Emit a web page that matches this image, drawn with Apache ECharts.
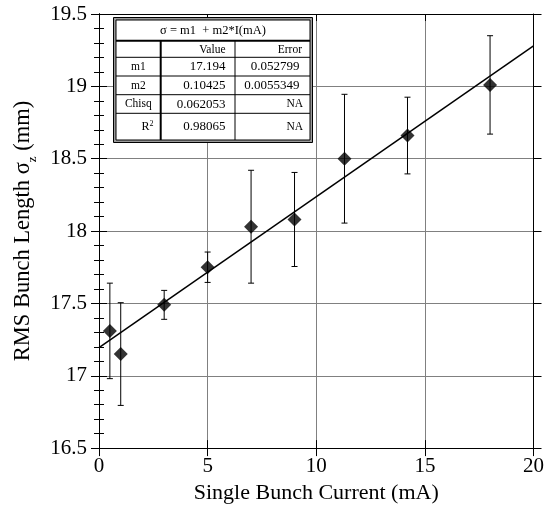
<!DOCTYPE html>
<html>
<head>
<meta charset="utf-8">
<script src="https://cdn.jsdelivr.net/npm/echarts@6/dist/echarts.min.js"></script>
<style>html,body{margin:0;padding:0;background:#fff;}#c{width:547px;height:509px;}</style>
</head>
<body>
<div id="c"></div>
<script>
// ---- data ----
var current = [0.5, 1.0, 3.0, 5.0, 7.0, 9.0, 11.3, 14.2, 18.0];
var sigma   = [17.31, 17.15, 17.49, 17.75, 18.03, 18.08, 18.50, 18.66, 19.01];
var sigmaErr = [0.33, 0.355, 0.10, 0.105, 0.39, 0.325, 0.445, 0.265, 0.34];
var fitX = [0, 20];
var fitY = [17.194, 19.279];
var xTicks = [0, 5, 10, 15, 20];
var yTicks = [16.5, 17, 17.5, 18, 18.5, 19, 19.5];

var tableTitle = 'σ = m1  + m2*I(mA)';
var tableHeader = ['', 'Value', 'Error'];
var tableRowLabels = ['m1', 'm2', 'Chisq', 'R{sup|2}'];
var tableValues = ['17.194', '0.10425', '0.062053', '0.98065'];
var tableErrors = ['0.052799', '0.0055349', 'NA', 'NA'];

var FONT = '"Liberation Serif", "Times New Roman", serif';

var points = current.map(function (x, i) { return [x, sigma[i]]; });
var errData = current.map(function (x, i) { return [x, sigma[i] - sigmaErr[i], sigma[i] + sigmaErr[i]]; });
var fitData = fitX.map(function (x, i) { return [x, fitY[i]]; });

var chart = echarts.init(document.getElementById('c'), null, {renderer: 'canvas'});

function yAxisBase(extra) {
  var a = {
    type: 'value', min: yTicks[0], max: yTicks[yTicks.length - 1], interval: 0.5,
    axisLine: {show: true, lineStyle: {color: '#000', width: 1}},
    axisTick: {show: true, length: 8, lineStyle: {color: '#000'}},
    axisLabel: {show: false},
    splitLine: {show: false},
    minorTick: {show: false}
  };
  for (var k in extra) a[k] = extra[k];
  return a;
}
function xAxisBase(extra) {
  var a = {
    type: 'value', min: xTicks[0], max: xTicks[xTicks.length - 1], interval: 5,
    axisLine: {show: true, onZero: false, lineStyle: {color: '#000', width: 1}},
    axisTick: {show: true, length: 8, lineStyle: {color: '#000'}},
    axisLabel: {show: false},
    splitLine: {show: false}
  };
  for (var k in extra) a[k] = extra[k];
  return a;
}

// table graphics
var tL = 113.5, tR = 312.5, tT = 17.5, tB = 142.5;
var iL = 116, iR = 310, iT = 20, iB = 140;
var rowLines = [40.7, 57.3, 76, 94.7, 113.3];
var rowCenters = [67, 85.7, 104.3, 127];
var col1 = 160.7, col2 = 235;
var g = [];
g.push({type: 'rect', shape: {x: tL, y: tT, width: tR - tL, height: tB - tT}, style: {fill: '#9a9a9a', stroke: '#000', lineWidth: 1}, z: 100});
g.push({type: 'rect', shape: {x: iL, y: iT, width: iR - iL, height: iB - iT}, style: {fill: '#fff', stroke: '#000', lineWidth: 1}, z: 101});
rowLines.forEach(function (y, i) {
  g.push({type: 'line', shape: {x1: iL, y1: y, x2: iR, y2: y}, style: {stroke: '#000', lineWidth: i === 0 ? 2 : 1}, z: 102});
});
g.push({type: 'line', shape: {x1: col1, y1: rowLines[0], x2: col1, y2: iB}, style: {stroke: '#000', lineWidth: 2}, z: 102});
g.push({type: 'line', shape: {x1: col2, y1: rowLines[0], x2: col2, y2: iB}, style: {stroke: '#000', lineWidth: 1}, z: 102});
function txt(x, y, s, align, size) {
  g.push({type: 'text', x: x, y: y, z: 103, style: {text: s, fontSize: size, fontFamily: FONT, fill: '#000', align: align, verticalAlign: 'middle',
    rich: {sup: {fontSize: 8, fontFamily: FONT, padding: [0, 0, 7, 0]}}}});
}
txt((iL + iR) / 2, 30.5, tableTitle, 'center', 12.5);
txt(225.5, 49.5, tableHeader[1], 'right', 11.5);
txt(302, 49.5, tableHeader[2], 'right', 11.5);
tableRowLabels.forEach(function (s, i) {
  if (i === 3) txt(153.5, rowCenters[i], s, 'right', 12);
  else txt((iL + col1) / 2, rowCenters[i], s, 'center', 11.5);
  txt(225.5, rowCenters[i], tableValues[i], 'right', 13);
  txt(i >= 2 ? 303 : 299.5, rowCenters[i], tableErrors[i], 'right', i >= 2 ? 11.5 : 13);
});

var option = {
  backgroundColor: '#fff',
  animation: false,
  textStyle: {fontFamily: FONT},
  grid: {left: 99, right: 9, top: 14, bottom: 60, containLabel: false},
  xAxis: [
    xAxisBase({
      position: 'bottom',
      axisLabel: {show: true, fontSize: 21, fontFamily: FONT, color: '#000', margin: 8},
      axisTick: {show: true, length: 8, inside: false, lineStyle: {color: '#000'}},
      splitLine: {show: true, lineStyle: {color: '#808080', width: 1}},
      name: 'Single Bunch Current (mA)', nameLocation: 'middle', nameGap: 31,
      nameTextStyle: {fontSize: 22, fontFamily: FONT, color: '#000'}
    }),
    xAxisBase({position: 'bottom', axisTick: {show: true, inside: true, length: 8, lineStyle: {color: '#000'}}}),
    xAxisBase({position: 'top', axisTick: {show: true, inside: true, length: 7, lineStyle: {color: '#000'}}})
  ],
  yAxis: [
    yAxisBase({
      position: 'left',
      axisLabel: {show: true, fontSize: 21, fontFamily: FONT, color: '#000', margin: 12},
      axisTick: {show: true, inside: false, length: 8, lineStyle: {color: '#000'}},
      splitLine: {show: true, lineStyle: {color: '#808080', width: 1}},
      name: 'RMS Bunch Length σ{sub|z} (mm)', nameLocation: 'middle', nameGap: 60,
      nameTextStyle: {fontSize: 22.5, fontFamily: FONT, color: '#000', lineHeight: 31,
        rich: {sub: {fontSize: 13, fontFamily: FONT, verticalAlign: 'bottom', lineHeight: 13}}}
    }),
    yAxisBase({position: 'left', axisTick: {show: true, inside: true, length: 8, lineStyle: {color: '#000'}},
      minorTick: {show: true, splitNumber: 5, length: 5, lineStyle: {color: '#000'}}}),
    yAxisBase({position: 'right', axisTick: {show: true, inside: true, length: 8, lineStyle: {color: '#000'}},
      minorTick: {show: true, splitNumber: 5, length: 5, lineStyle: {color: '#000'}}}),
    yAxisBase({position: 'right', axisTick: {show: true, inside: false, length: 8, lineStyle: {color: '#000'}}})
  ],
  series: [
    {
      type: 'line', data: fitData, xAxisIndex: 0, yAxisIndex: 0, showSymbol: false, symbol: 'none',
      lineStyle: {color: '#000', width: 1.5}, z: 3, silent: true
    },
    {
      type: 'custom', xAxisIndex: 0, yAxisIndex: 0, data: errData, z: 4,
      renderItem: function (params, api) {
        var x = api.value(0);
        var lo = api.coord([x, api.value(1)]);
        var hi = api.coord([x, api.value(2)]);
        var w = 3;
        var st = {stroke: '#000', lineWidth: 1};
        return {type: 'group', children: [
          {type: 'line', shape: {x1: lo[0], y1: lo[1], x2: hi[0], y2: hi[1]}, style: st},
          {type: 'line', shape: {x1: lo[0] - w, y1: lo[1], x2: lo[0] + w, y2: lo[1]}, style: st},
          {type: 'line', shape: {x1: hi[0] - w, y1: hi[1], x2: hi[0] + w, y2: hi[1]}, style: st}
        ]};
      }
    },
    {
      type: 'scatter', data: points, xAxisIndex: 0, yAxisIndex: 0, symbol: 'diamond', symbolSize: [14, 14],
      itemStyle: {color: '#000'}, z: 5
    }
  ],
  graphic: g
};
chart.setOption(option);
</script>
</body>
</html>
